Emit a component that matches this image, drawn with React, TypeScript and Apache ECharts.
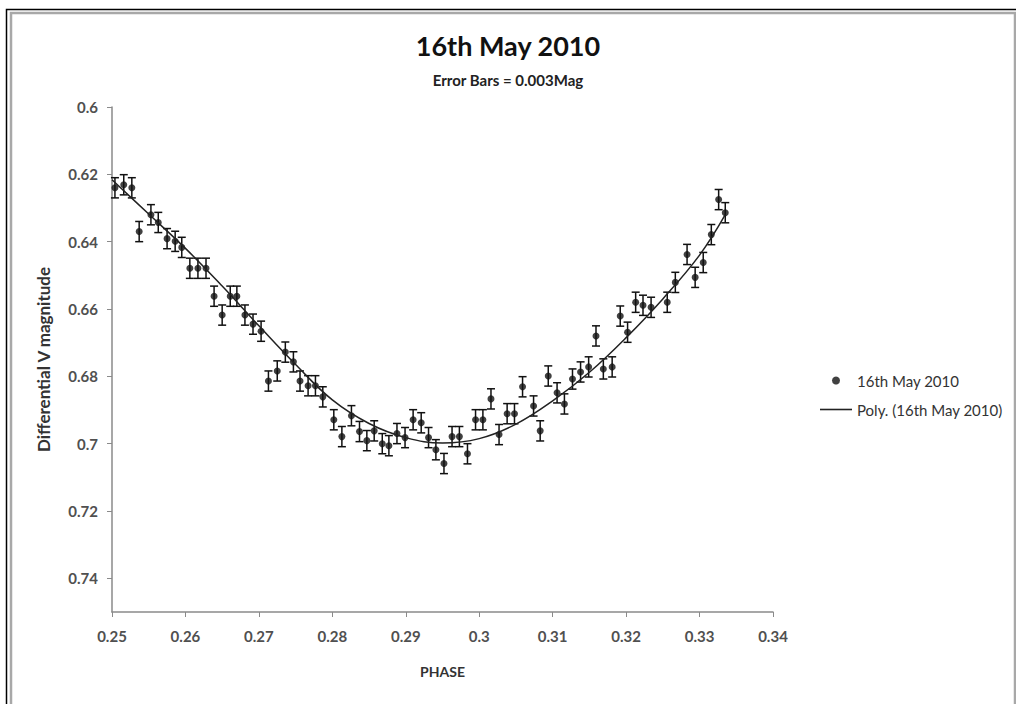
import React, { useEffect, useRef } from "react";
import * as echarts from "echarts";

const phase = [
  0.2504, 0.2516, 0.2527, 0.2537, 0.2553, 0.2563, 0.2575, 0.2586, 0.2595, 0.2606,
  0.2617, 0.2628, 0.2639, 0.265, 0.2661, 0.267, 0.2681, 0.2692, 0.2703, 0.2713,
  0.2725, 0.2736, 0.2747, 0.2756, 0.2767, 0.2777, 0.2787, 0.2802, 0.2813, 0.2826,
  0.2837, 0.2847, 0.2857, 0.2868, 0.2877, 0.2888, 0.2899, 0.291, 0.2921, 0.2931,
  0.2941, 0.2952, 0.2963, 0.2973, 0.2984, 0.2995, 0.3005, 0.3016, 0.3027, 0.3038,
  0.3048, 0.3059, 0.3074, 0.3083, 0.3094, 0.3106, 0.3116, 0.3127, 0.3138, 0.3149,
  0.3159, 0.3169, 0.3181, 0.3192, 0.3202, 0.3213, 0.3223, 0.3234, 0.3256, 0.3267,
  0.3283, 0.3294, 0.3305, 0.3316, 0.3326, 0.3335,
];
const magnitude = [
  0.624, 0.6231, 0.624, 0.637, 0.632, 0.6343, 0.6391, 0.6399, 0.6417, 0.6479,
  0.6479, 0.6479, 0.6562, 0.6618, 0.6562, 0.6562, 0.6618, 0.6645, 0.6666, 0.6814,
  0.6784, 0.6728, 0.6757, 0.6814, 0.6828, 0.6828, 0.6861, 0.6929, 0.6979, 0.6917,
  0.6964, 0.6991, 0.6962, 0.7, 0.7006, 0.697, 0.6982, 0.6929, 0.6938, 0.6982,
  0.7018, 0.7059, 0.6979, 0.6979, 0.703, 0.6929, 0.6929, 0.6867, 0.6973, 0.6911,
  0.6911, 0.6831, 0.6888, 0.6962, 0.6799, 0.6849, 0.6882, 0.6808, 0.6787, 0.6772,
  0.668, 0.6778, 0.6772, 0.6621, 0.6669, 0.658, 0.6589, 0.6595, 0.658, 0.6521,
  0.6438, 0.6506, 0.6462, 0.6379, 0.6275, 0.6314,
];
const errorBar = 0.003;

const fitPhase = [
  0.25, 0.255, 0.26, 0.265, 0.27, 0.275, 0.28, 0.285, 0.29, 0.295, 0.3, 0.305,
  0.31, 0.315, 0.32, 0.325, 0.33, 0.3335,
];
const fitMagnitude = [
  0.6216, 0.6318, 0.642, 0.6532, 0.665, 0.6765, 0.687, 0.694, 0.6982, 0.6998,
  0.6985, 0.6942, 0.6873, 0.6788, 0.6685, 0.657, 0.644, 0.632,
];

const titleText = "16th May 2010";
const subtitleText = "Error Bars = 0.003Mag";
const seriesName = "16th May 2010";
const fitName = "Poly. (16th May 2010)";
const xName = "PHASE";
const yName = "Differential V magnitude";

const FONT = "Lato, 'Open Sans', sans-serif";

export default function App() {
  const ref = useRef<HTMLDivElement>(null);
  useEffect(() => {
    if (!ref.current) return;
    const chart = echarts.init(ref.current, null, { renderer: "svg" });
    const points = phase.map((p, i) => [p, magnitude[i]]);
    const fit = fitPhase.map((p, i) => [p, fitMagnitude[i]]);
    const fmt = (v: number) => String(parseFloat(v.toFixed(3)));
    const option: any = {
      animation: false,
      backgroundColor: "#ffffff",
      textStyle: { fontFamily: FONT },
      title: [
        {
          text: titleText,
          left: "center",
          top: 27,
          textStyle: { fontFamily: FONT, fontSize: 27, fontWeight: "bold", color: "#111" },
        },
        {
          text: subtitleText,
          left: "center",
          top: 67,
          textStyle: { fontFamily: FONT, fontSize: 15, fontWeight: "bold", color: "#222" },
        },
      ],
      legend: {
        orient: "vertical",
        left: 815,
        top: 368,
        itemWidth: 32,
        itemHeight: 8,
        itemGap: 14,
        textStyle: { fontFamily: FONT, fontSize: 15, color: "#333" },
        data: [
          { name: seriesName, icon: "circle", itemStyle: { color: "#111" } },
          {
            name: fitName,
            icon: "path://M0,0 L32,0 L32,1.6 L0,1.6 Z",
            itemStyle: { color: "#222" },
          },
        ],
      },
      grid: { left: 112, top: 107, width: 661, height: 505 },
      xAxis: {
        type: "value",
        min: 0.25,
        max: 0.34,
        interval: 0.01,
        name: xName,
        nameLocation: "middle",
        nameGap: 52,
        nameTextStyle: { fontFamily: FONT, fontSize: 14, fontWeight: "bold", color: "#333" },
        axisLine: { lineStyle: { color: "#8a8a8a", width: 1.5 } },
        axisTick: { show: true, length: 5, inside: false, lineStyle: { color: "#8a8a8a" } },
        axisLabel: {
          formatter: fmt,
          fontFamily: FONT,
          fontSize: 15,
          fontWeight: "bold",
          color: "#505050",
          margin: 16,
        },
        splitLine: { show: false },
      },
      yAxis: {
        type: "value",
        inverse: true,
        min: 0.6,
        max: 0.75,
        interval: 0.02,
        name: yName,
        nameLocation: "middle",
        nameRotate: 90,
        nameGap: 60,
        nameTextStyle: { fontFamily: FONT, fontSize: 17, fontWeight: "bold", color: "#333" },
        axisLine: { show: true, lineStyle: { color: "#8a8a8a", width: 1.5 } },
        axisTick: { show: true, length: 5, lineStyle: { color: "#8a8a8a" } },
        axisLabel: {
          formatter: fmt,
          showMaxLabel: false,
          fontFamily: FONT,
          fontSize: 15,
          fontWeight: "bold",
          color: "#505050",
          margin: 14,
        },
        splitLine: { show: false },
      },
      graphic: [
        {
          type: "rect",
          shape: { x: 6.5, y: 9.5, width: 1030, height: 720 },
          style: { fill: "none", stroke: "#000", lineWidth: 1.5 },
          silent: true,
        },
        {
          type: "rect",
          shape: { x: 11, y: 13, width: 1004, height: 720 },
          style: { fill: "none", stroke: "#a8a8a8", lineWidth: 2.5 },
          silent: true,
        },
      ],
      series: [
        {
          type: "custom",
          name: "errors",
          data: points,
          z: 3,
          renderItem: (params: any, api: any) => {
            const x = api.value(0);
            const y = api.value(1);
            const top = api.coord([x, y - errorBar]);
            const bot = api.coord([x, y + errorBar]);
            const w = 4;
            const st = { stroke: "#111", lineWidth: 1.5 };
            return {
              type: "group",
              children: [
                { type: "line", shape: { x1: top[0], y1: top[1], x2: bot[0], y2: bot[1] }, style: st },
                { type: "line", shape: { x1: top[0] - w, y1: top[1], x2: top[0] + w, y2: top[1] }, style: st },
                { type: "line", shape: { x1: bot[0] - w, y1: bot[1], x2: bot[0] + w, y2: bot[1] }, style: st },
              ],
            };
          },
        },
        {
          type: "scatter",
          name: seriesName,
          data: points,
          symbol: "circle",
          symbolSize: 7,
          itemStyle: { color: "#111" },
          z: 4,
        },
        {
          type: "line",
          name: fitName,
          data: fit,
          smooth: 0.4,
          showSymbol: false,
          symbol: "none",
          lineStyle: { color: "#222", width: 1.5 },
          itemStyle: { color: "#222" },
          z: 5,
        },
      ],
    };
    chart.setOption(option);
    return () => chart.dispose();
  }, []);
  return (
    <div
      ref={ref}
      style={{ position: "absolute", left: 0, top: 0, width: 1016, height: 704 }}
    />
  );
}
